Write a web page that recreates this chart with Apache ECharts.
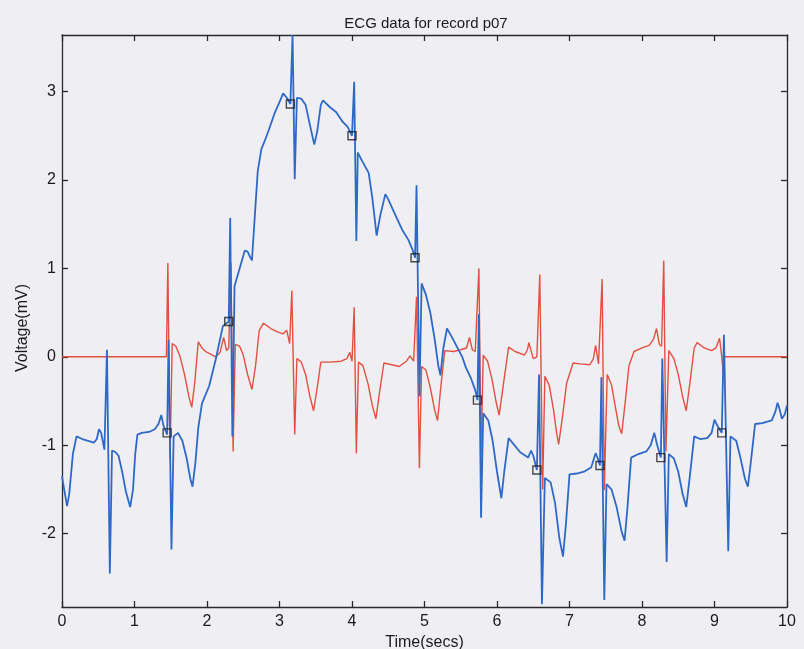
<!DOCTYPE html>
<html>
<head>
<meta charset="utf-8">
<script src="https://cdn.jsdelivr.net/npm/echarts@6/dist/echarts.min.js"></script>
<style>
html,body{margin:0;padding:0;background:#efeef2;}
#chart{width:804px;height:649px;}
</style>
</head>
<body>
<div id="chart"></div>
<script>
// Blue trace: [time (s), voltage (mV)] vertices
var blueTrace = [[0,-1.35],[0.03,-1.5],[0.07,-1.69],[0.1,-1.55],[0.15,-1.1],[0.2,-0.9],[0.28,-0.93],[0.36,-0.95],[0.44,-0.97],[0.48,-0.93],[0.51,-0.82],[0.54,-0.86],[0.585,-1.05],[0.62,0.08],[0.66,-2.45],[0.69,-1.06],[0.74,-1.08],[0.78,-1.12],[0.83,-1.3],[0.88,-1.52],[0.94,-1.70],[0.98,-1.5],[1.01,-1.1],[1.04,-0.88],[1.1,-0.86],[1.2,-0.85],[1.28,-0.82],[1.33,-0.76],[1.37,-0.66],[1.4,-0.78],[1.45,-0.88],[1.47,0.19],[1.51,-2.18],[1.54,-0.9],[1.6,-0.86],[1.66,-0.95],[1.72,-1.15],[1.77,-1.38],[1.80,-1.47],[1.84,-1.2],[1.88,-0.8],[1.93,-0.53],[2.03,-0.33],[2.12,-0.03],[2.22,0.35],[2.30,0.40],[2.32,1.57],[2.35,-0.9],[2.38,0.80],[2.45,1.0],[2.52,1.2],[2.56,1.19],[2.6,1.12],[2.62,1.09],[2.66,1.6],[2.7,2.1],[2.75,2.35],[2.8,2.45],[2.85,2.56],[2.93,2.75],[3.01,2.90],[3.05,2.98],[3.1,2.93],[3.15,2.86],[3.18,3.64],[3.21,2.01],[3.24,2.93],[3.3,2.92],[3.36,2.85],[3.42,2.62],[3.48,2.40],[3.52,2.55],[3.57,2.85],[3.6,2.90],[3.7,2.82],[3.78,2.77],[3.87,2.66],[3.94,2.6],[4.0,2.50],[4.03,3.11],[4.06,1.31],[4.08,2.31],[4.15,2.2],[4.23,2.08],[4.28,1.8],[4.34,1.37],[4.39,1.6],[4.46,1.84],[4.5,1.78],[4.6,1.6],[4.69,1.44],[4.78,1.32],[4.84,1.2],[4.87,1.12],[4.89,1.94],[4.93,-0.45],[4.96,0.83],[5.02,0.7],[5.08,0.5],[5.14,0.2],[5.19,-0.1],[5.22,-0.21],[5.26,0.1],[5.31,0.32],[5.38,0.22],[5.45,0.11],[5.52,0.0],[5.57,-0.12],[5.64,-0.24],[5.70,-0.38],[5.73,-0.49],[5.75,0.48],[5.78,-1.82],[5.81,-0.64],[5.88,-0.72],[5.94,-0.95],[6.0,-1.3],[6.06,-1.60],[6.1,-1.3],[6.16,-0.92],[6.22,-0.98],[6.32,-1.08],[6.43,-1.14],[6.47,-1.06],[6.5,-1.12],[6.55,-1.28],[6.58,-0.2],[6.62,-2.8],[6.66,-1.37],[6.74,-1.42],[6.8,-1.65],[6.86,-2.05],[6.91,-2.26],[6.95,-1.9],[7.0,-1.33],[7.1,-1.32],[7.2,-1.3],[7.3,-1.25],[7.36,-1.09],[7.39,-1.15],[7.42,-1.23],[7.44,-0.23],[7.48,-2.75],[7.51,-1.44],[7.58,-1.5],[7.65,-1.7],[7.72,-1.98],[7.76,-2.08],[7.8,-1.7],[7.85,-1.14],[7.95,-1.1],[8.06,-1.07],[8.12,-1.0],[8.17,-0.86],[8.21,-1.0],[8.26,-1.14],[8.28,-0.02],[8.34,-2.32],[8.37,-1.1],[8.44,-1.15],[8.5,-1.3],[8.56,-1.55],[8.61,-1.70],[8.66,-1.35],[8.72,-0.90],[8.8,-0.93],[8.9,-0.92],[8.96,-0.86],[9.0,-0.71],[9.04,-0.78],[9.1,-0.86],[9.13,0.25],[9.19,-2.2],[9.22,-0.9],[9.3,-0.95],[9.36,-1.15],[9.42,-1.38],[9.46,-1.47],[9.5,-1.2],[9.56,-0.76],[9.66,-0.75],[9.79,-0.72],[9.84,-0.62],[9.87,-0.52],[9.9,-0.6],[9.93,-0.70],[9.97,-0.65],[10,-0.55]];

// Red trace
var redTrace = [[0,0],[1.44,0],[1.46,1.06],[1.49,-1.15],[1.52,0.15],[1.57,0.12],[1.63,0.0],[1.69,-0.2],[1.75,-0.45],[1.79,-0.57],[1.83,-0.3],[1.88,0.17],[1.93,0.1],[1.98,0.06],[2.05,0.03],[2.12,0.0],[2.18,0.05],[2.23,0.22],[2.27,0.07],[2.3,0.1],[2.33,1.06],[2.36,-1.07],[2.39,0.14],[2.45,0.12],[2.5,0.02],[2.56,-0.2],[2.62,-0.37],[2.67,-0.1],[2.72,0.3],[2.78,0.38],[2.88,0.32],[2.98,0.28],[3.05,0.26],[3.1,0.3],[3.14,0.15],[3.17,0.75],[3.21,-0.88],[3.24,-0.02],[3.3,-0.06],[3.36,-0.2],[3.42,-0.45],[3.47,-0.61],[3.52,-0.35],[3.57,-0.06],[3.7,-0.06],[3.85,-0.05],[3.93,-0.02],[3.97,0.05],[4.0,-0.05],[4.03,0.56],[4.06,-1.09],[4.09,-0.06],[4.15,-0.1],[4.22,-0.3],[4.28,-0.55],[4.33,-0.70],[4.38,-0.4],[4.44,-0.07],[4.55,-0.09],[4.65,-0.11],[4.75,-0.05],[4.8,0.01],[4.85,-0.05],[4.89,0.68],[4.93,-1.26],[4.96,-0.11],[5.02,-0.15],[5.08,-0.35],[5.14,-0.6],[5.18,-0.72],[5.23,-0.3],[5.28,0.07],[5.4,0.06],[5.5,0.08],[5.58,0.1],[5.62,0.22],[5.66,0.08],[5.7,0.06],[5.75,1.0],[5.78,-1.1],[5.81,0.02],[5.87,-0.05],[5.93,-0.25],[5.99,-0.52],[6.03,-0.66],[6.09,-0.3],[6.16,0.11],[6.25,0.06],[6.38,0.02],[6.42,0.08],[6.44,0.16],[6.5,-0.02],[6.55,0.0],[6.59,0.93],[6.63,-1.5],[6.66,-0.22],[6.72,-0.32],[6.78,-0.6],[6.82,-0.85],[6.85,-0.99],[6.9,-0.7],[6.96,-0.3],[7.05,-0.07],[7.15,-0.08],[7.28,-0.09],[7.33,-0.02],[7.36,0.13],[7.4,-0.08],[7.42,-0.1],[7.45,0.88],[7.48,-1.51],[7.52,-0.2],[7.58,-0.32],[7.64,-0.6],[7.68,-0.78],[7.72,-0.87],[7.77,-0.5],[7.82,-0.1],[7.89,0.06],[8.0,0.1],[8.1,0.13],[8.16,0.2],[8.2,0.32],[8.24,0.14],[8.27,0.12],[8.3,1.09],[8.33,-1.07],[8.37,0.07],[8.44,-0.02],[8.5,-0.2],[8.56,-0.45],[8.61,-0.61],[8.66,-0.3],[8.72,0.1],[8.76,0.16],[8.86,0.1],[8.96,0.07],[9.02,0.1],[9.07,0.21],[9.1,0.0],[9.12,-0.18],[9.13,0],[10,0]];

// Square markers on blue trace
var beatMarkers = [[1.45,-0.86],[2.30,0.40],[3.15,2.86],[4.0,2.50],[4.87,1.12],[5.73,-0.49],[6.55,-1.28],[7.42,-1.23],[8.26,-1.14],[9.1,-0.86]];

var xTicks = [0,1,2,3,4,5,6,7,8,9,10];
var yTicks = [-2,-1,0,1,2,3];

var titleText = 'ECG data for record p07';
var xName = 'Time(secs)';
var yName = 'Voltage(mV)';

var chart = echarts.init(document.getElementById('chart'));
var font = 'Liberation Sans, Arial, Helvetica, sans-serif';
var axisCol = '#2a2a2a';
var textCol = '#1a1a1a';

function baseAxisLine(){ return {show:true, onZero:false, lineStyle:{color:axisCol, width:1.3}}; }
function ticks(vals){ return {show:true, inside:true, length:6, customValues:vals, lineStyle:{color:axisCol, width:1.3}}; }

chart.setOption({
  animation:false,
  backgroundColor:'#efeef2',
  title:{text:titleText, left:421, top:11, textAlign:'center',
    textStyle:{fontFamily:font, fontSize:15, fontWeight:'normal', color:textCol}},
  grid:{left:62, right:17, top:35, bottom:42, show:false, containLabel:false, outerBoundsMode:'none'},
  xAxis:[{
    type:'value', min:0, max:10, position:'bottom',
    name:xName, nameLocation:'middle', nameGap:22,
    nameTextStyle:{fontFamily:font, fontSize:16, color:textCol},
    axisLine:baseAxisLine(),
    axisTick:ticks(xTicks),
    axisLabel:{fontFamily:font, fontSize:16, color:textCol, margin:7, customValues:xTicks},
    splitLine:{show:false}
  },{
    type:'value', min:0, max:10, position:'top',
    axisLine:baseAxisLine(),
    axisTick:ticks(xTicks),
    axisLabel:{show:false},
    splitLine:{show:false}
  }],
  yAxis:[{
    type:'value', min:-2.83, max:3.64, position:'left',
    name:yName, nameLocation:'middle', nameGap:29,
    nameTextStyle:{fontFamily:font, fontSize:16, color:textCol, padding:[0,14,0,0]},
    axisLine:baseAxisLine(),
    axisTick:ticks(yTicks),
    axisLabel:{fontFamily:font, fontSize:16, color:textCol, margin:6, customValues:yTicks},
    splitLine:{show:false}
  },{
    type:'value', min:-2.83, max:3.64, position:'right',
    axisLine:baseAxisLine(),
    axisTick:ticks(yTicks),
    axisLabel:{show:false},
    splitLine:{show:false}
  }],
  series:[{
    type:'line', name:'red', data:redTrace, showSymbol:false, z:2,
    xAxisIndex:0, yAxisIndex:0, clip:true,
    lineStyle:{color:'#e4503f', width:1.4}
  },{
    type:'line', name:'blue', data:blueTrace, showSymbol:false, z:3,
    xAxisIndex:0, yAxisIndex:0, clip:true,
    lineStyle:{color:'#2f69c8', width:1.8}
  },{
    type:'scatter', name:'beats', data:beatMarkers, symbol:'rect', symbolSize:8, z:4,
    xAxisIndex:0, yAxisIndex:0,
    itemStyle:{color:'rgba(0,0,0,0)', borderColor:'#1e1e1e', borderWidth:1.4}
  }]
});
</script>
</body>
</html>
